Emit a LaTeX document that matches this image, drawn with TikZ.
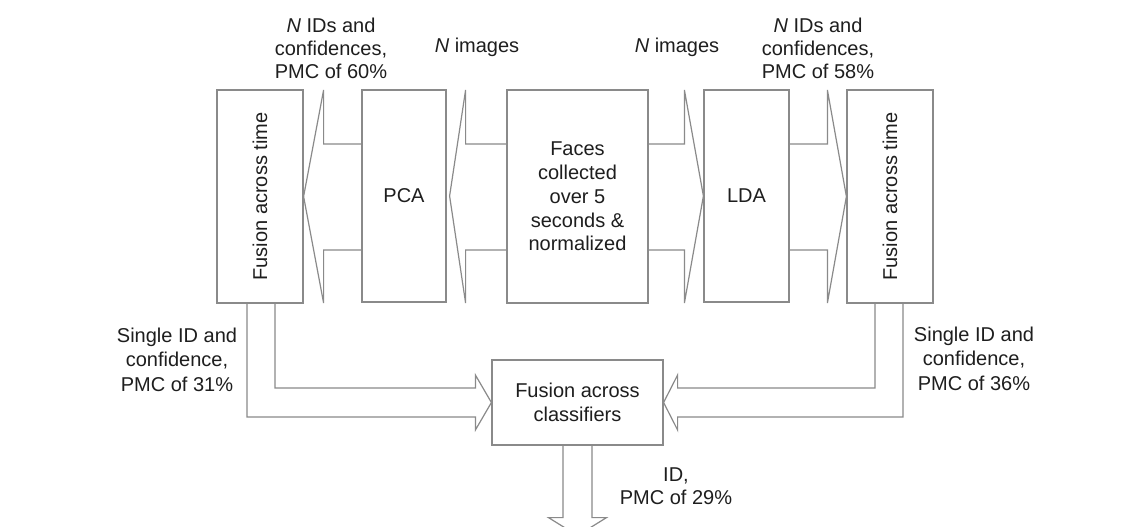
\documentclass[tikz,border=0pt]{standalone}
\usepackage{fontspec}
\setmainfont{Liberation Sans}
\usetikzlibrary{calc}
\definecolor{ln}{HTML}{8A8A8A}
\definecolor{tx}{HTML}{1E1E1E}
\begin{document}
\begin{tikzpicture}[x=1pt,y=-1pt,
  box/.style={draw=ln, line width=1.2pt, inner sep=0pt, text=tx, align=center,
              font=\fontsize{20}{23.75}\selectfont},
  blk/.style={draw=ln, line width=1.2pt, line join=miter},
  lbl/.style={text=tx, inner sep=0pt, align=center, font=\fontsize{20}{23}\selectfont},
  lblw/.style={text=tx, inner sep=0pt, align=center, font=\fontsize{20}{24.5}\selectfont}]
\useasboundingbox (0,0) rectangle (1138,527);
\clip (0,0) rectangle (1138,527);
\fill[white] (0,0) rectangle (1138,527);

% boxes
\node[box, minimum width=86, minimum height=213] (ft1) at (260,196.5) {};
\node[box, minimum width=84, minimum height=212] (pca) at (404,196) {PCA};
\node[box, minimum width=141, minimum height=213] (faces) at (577.5,196.5)
  {Faces\\collected\\over 5\\seconds \&\\normalized};
\node[box, minimum width=85, minimum height=212] (lda) at (746.5,196) {LDA};
\node[box, minimum width=86, minimum height=213] (ft2) at (890,196.5) {};
\node[box, minimum width=171, minimum height=85] (fc) at (577.5,402.5)
  {Fusion across\\classifiers};

\node[lbl, rotate=90] (ft1t) at (ft1.center) {Fusion across time};
\node[lbl, rotate=90] (ft2t) at (ft2.center) {Fusion across time};

% block arrows: faces -> pca
\draw[blk] (faces.west |- 0,144) -- ($(pca.east |- 0,144)+(19,0)$)
  -- ($(pca.east |- 0,90)+(19,0)$) -- ($(pca.east)+(3,0)$)
  -- ($(pca.east |- 0,303)+(19,0)$) -- ($(pca.east |- 0,250)+(19,0)$)
  -- (faces.west |- 0,250);
% pca -> ft1
\draw[blk] (pca.west |- 0,144) -- ($(ft1.east |- 0,144)+(20,0)$)
  -- ($(ft1.east |- 0,90)+(20,0)$) -- (ft1.east)
  -- ($(ft1.east |- 0,303)+(20,0)$) -- ($(ft1.east |- 0,250)+(20,0)$)
  -- (pca.west |- 0,250);
% faces -> lda
\draw[blk] (faces.east |- 0,144) -- ($(lda.west |- 0,144)+(-19,0)$)
  -- ($(lda.west |- 0,90)+(-19,0)$) -- (lda.west)
  -- ($(lda.west |- 0,303)+(-19,0)$) -- ($(lda.west |- 0,250)+(-19,0)$)
  -- (faces.east |- 0,250);
% lda -> ft2
\draw[blk] (lda.east |- 0,144) -- ($(ft2.west |- 0,144)+(-19,0)$)
  -- ($(ft2.west |- 0,90)+(-19,0)$) -- (ft2.west)
  -- ($(ft2.west |- 0,303)+(-19,0)$) -- ($(ft2.west |- 0,250)+(-19,0)$)
  -- (lda.east |- 0,250);

% ft1 -> fc
\draw[blk] ($(ft1.south)+(15,0)$) -- ($(ft1.south |- fc.west)+(15,-14.5)$)
  -- ($(fc.west)+(-16,-14.5)$) -- ($(fc.west)+(-16,-27.5)$) -- (fc.west)
  -- ($(fc.west)+(-16,27.5)$) -- ($(fc.west)+(-16,14.5)$)
  -- ($(ft1.south |- fc.west)+(-13,14.5)$) -- ($(ft1.south)+(-13,0)$);
% ft2 -> fc
\draw[blk] ($(ft2.south)+(-15,0)$) -- ($(ft2.south |- fc.west)+(-15,-14.5)$)
  -- ($(fc.east)+(14,-14.5)$) -- ($(fc.east)+(14,-27.5)$) -- (fc.east)
  -- ($(fc.east)+(14,27.5)$) -- ($(fc.east)+(14,14.5)$)
  -- ($(ft2.south |- fc.east)+(13,14.5)$) -- ($(ft2.south)+(13,0)$);
% fc -> out
\coordinate (out) at ($(fc.south)+(0,90)$);
\draw[blk] ($(fc.south)+(-14.5,0)$) -- ($(fc.south)+(-14.5,72)$)
  -- ($(fc.south)+(-29,72)$) -- (out) -- ($(fc.south)+(29,72)$)
  -- ($(fc.south)+(14.5,72)$) -- ($(fc.south)+(14.5,0)$);

% labels
\node[lbl, anchor=north] (l60) at (331,17.5) {\textit{N} IDs and\\confidences,\\PMC of 60\%};
\node[lbl, anchor=base] (ni1) at (477,53) {\textit{N} images};
\node[lbl, anchor=base] (ni2) at (677,53) {\textit{N} images};
\node[lbl, anchor=north] (l58) at (818,17.5) {\textit{N} IDs and\\confidences,\\PMC of 58\%};
\node[lblw, anchor=north] (l31) at (177,327.5) {Single ID and\\confidence,\\PMC of 31\%};
\node[lblw, anchor=north] (l36) at (974,326.5) {Single ID and\\confidence,\\PMC of 36\%};
\node[lbl, anchor=north] (l29) at (676,467.5) {ID,\\PMC of 29\%};
\end{tikzpicture}
\end{document}
